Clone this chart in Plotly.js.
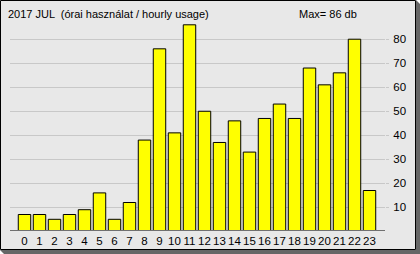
<!DOCTYPE html>
<html>
<head>
<meta charset="utf-8">
<script src="https://cdn.plot.ly/plotly-3.0.1.min.js"></script>
<style>html,body{margin:0;padding:0;background:#fff;}#chart{width:420px;height:254px;}</style>
</head>
<body>
<div id="chart"></div>
<script>
const hourLabels = ["0","1","2","3","4","5","6","7","8","9","10","11","12","13","14","15","16","17","18","19","20","21","22","23"];
const hourlyUsage = [7,7,5,7,9,16,5,12,38,76,41,86,50,37,46,33,47,53,47,68,61,66,80,17];
const yTickVals = [10,20,30,40,50,60,70,80];
const titleText = "2017 JUL  (órai használat / hourly usage)";
const maxText = "Max= " + Math.max(...hourlyUsage) + " db";

const W = 420, H = 254;
const M = {l: 10, r: 35, t: 20, b: 24};
const PW = W - M.l - M.r, PH = H - M.t - M.b;
const px = x => (x - M.l) / PW;
const py = y => (H - M.b - y) / PH;

const FONT = "Liberation Sans, Arial, sans-serif";
const FS = 11.5;
const FS_TITLE = 11;

const shadowPath = "M" + px(416) + "," + py(0) + " L" + px(420) + "," + py(4) +
  " L" + px(420) + "," + py(254) + " L" + px(4) + "," + py(254) +
  " L" + px(0) + "," + py(250) + " L" + px(416) + "," + py(250) + " Z";

const trace = {
  type: "bar",
  x: hourLabels.map((_, i) => i),
  y: hourlyUsage,
  marker: {color: "#ffff00", line: {color: "#000000", width: 1}},
  hoverinfo: "skip"
};

const layout = {
  width: W, height: H,
  margin: M,
  paper_bgcolor: "#ffffff",
  plot_bgcolor: "rgba(0,0,0,0)",
  showlegend: false,
  bargap: 0.17,
  font: {family: FONT, size: FS, color: "#000"},
  xaxis: {
    range: [-0.967, 24.033],
    tickmode: "array",
    tickvals: hourLabels.map((_, i) => i),
    ticktext: hourLabels,
    tickangle: 0,
    ticks: "",
    showgrid: false,
    zeroline: false,
    showline: true,
    linecolor: "#707070",
    linewidth: 1,
    tickfont: {family: FONT, size: FS, color: "#000"},
    fixedrange: true
  },
  yaxis: {
    side: "right",
    range: [0.55, 88],
    tickmode: "array",
    tickvals: yTickVals,
    ticks: "outside",
    ticklen: 3,
    tickcolor: "#c8c8c8",
    showgrid: true,
    gridcolor: "#c8c8c8",
    gridwidth: 1,
    zeroline: false,
    showline: false,
    ticklabelstandoff: 2,
    tickfont: {family: FONT, size: FS, color: "#000"},
    fixedrange: true
  },
  shapes: [
    {type: "path", xref: "paper", yref: "paper", path: shadowPath,
     fillcolor: "#666666", line: {width: 0}, layer: "below"},
    {type: "rect", xref: "paper", yref: "paper",
     x0: px(0.5), x1: px(415.5), y0: py(0.5), y1: py(249.5),
     fillcolor: "#e8e8e8", line: {color: "#000000", width: 1}, layer: "below"}
  ],
  annotations: [
    {text: titleText, xref: "paper", yref: "paper", x: px(6), y: py(13.5),
     xanchor: "left", yanchor: "middle", showarrow: false,
     font: {family: FONT, size: FS_TITLE, color: "#000"}},
    {text: maxText, xref: "paper", yref: "paper", x: px(328), y: py(13.5),
     xanchor: "center", yanchor: "middle", showarrow: false,
     font: {family: FONT, size: FS_TITLE, color: "#000"}}
  ]
};

Plotly.newPlot("chart", [trace], layout, {staticPlot: true, displayModeBar: false});
</script>
</body>
</html>
